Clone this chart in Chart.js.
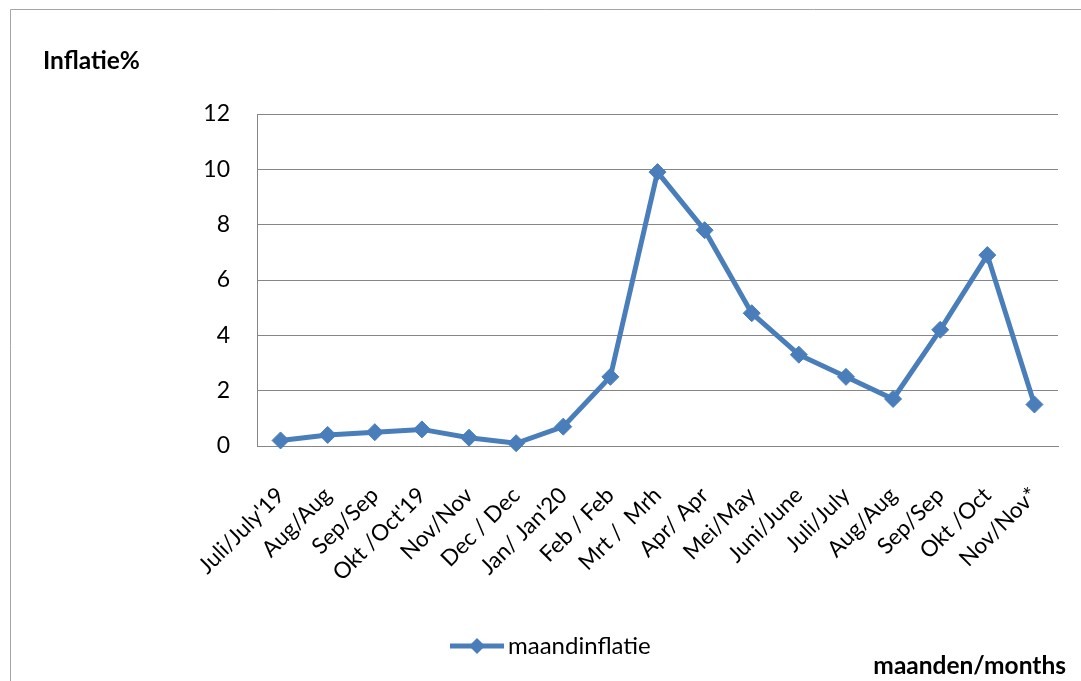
<!DOCTYPE html>
<html>
<head>
<meta charset="utf-8">
<script src="https://cdn.jsdelivr.net/npm/chart.js@4.4.0/dist/chart.umd.min.js"></script>
<style>
html,body{margin:0;padding:0;background:#fff;}
#wrap{width:1081px;height:681px;position:relative;}
</style>
</head>
<body>
<div id="wrap"><canvas id="c" width="1081" height="681"></canvas></div>
<script>
const categories = ["Juli/July'19","Aug/Aug","Sep/Sep","Okt /Oct'19","Nov/Nov","Dec / Dec","Jan/ Jan'20","Feb / Feb","Mrt /  Mrh","Apr/ Apr","Mei/May","Juni/June","Juli/July","Aug/Aug","Sep/Sep","Okt /Oct","Nov/Nov*"];
const maandinflatie = [0.2,0.4,0.5,0.6,0.3,0.1,0.7,2.5,9.9,7.8,4.8,3.3,2.5,1.7,4.2,6.9,1.5];
const yTicks = [0,2,4,6,8,10,12];
const seriesLabel = "maandinflatie";
const yTitle = "Inflatie%";
const xTitle = "maanden/months";

const FONT = "Lato, 'Open Sans', sans-serif";
const BLUE = "#4a7ebb";

const decor = {
  id: 'decor',
  beforeDraw(chart){
    const ctx = chart.ctx;
    ctx.save();
    ctx.fillStyle = '#fff';
    ctx.fillRect(0,0,chart.width,chart.height);
    ctx.strokeStyle = '#a6a6a6';
    ctx.lineWidth = 1;
    ctx.beginPath();
    ctx.moveTo(10.5, chart.height);
    ctx.lineTo(10.5, 9.5);
    ctx.lineTo(chart.width, 9.5);
    ctx.stroke();
    ctx.restore();
  },
  afterDraw(chart){
    const ctx = chart.ctx;
    ctx.save();
    ctx.fillStyle = '#000';
    ctx.font = "bold 24.5px " + FONT;
    ctx.textBaseline = 'middle';
    ctx.textAlign = 'left';
    ctx.fillText(yTitle, 43, 61);
    ctx.textAlign = 'right';
    ctx.fillText(xTitle, 1066, 666);
    // legend
    const ds = chart.data.datasets[0];
    const cy = 646;
    ctx.strokeStyle = ds.borderColor;
    ctx.lineWidth = 5;
    ctx.beginPath();
    ctx.moveTo(450, cy);
    ctx.lineTo(504, cy);
    ctx.stroke();
    ctx.fillStyle = ds.borderColor;
    ctx.beginPath();
    const mx = 477, r = 8;
    ctx.moveTo(mx, cy - r); ctx.lineTo(mx + r, cy); ctx.lineTo(mx, cy + r); ctx.lineTo(mx - r, cy);
    ctx.closePath(); ctx.fill();
    ctx.fillStyle = '#000';
    ctx.font = "24px " + FONT;
    ctx.textAlign = 'left';
    ctx.fillText(ds.label, 508, cy);
    ctx.restore();
  }
};

new Chart(document.getElementById('c'), {
  type: 'line',
  data: {
    labels: categories,
    datasets: [{
      label: seriesLabel,
      data: maandinflatie,
      borderColor: BLUE,
      backgroundColor: BLUE,
      borderWidth: 5,
      pointStyle: 'rectRot',
      pointRadius: 8.5,
      pointHoverRadius: 8.5,
      pointBackgroundColor: BLUE,
      pointBorderColor: BLUE,
      pointBorderWidth: 1,
      tension: 0,
      clip: false
    }]
  },
  options: {
    responsive: false,
    animation: false,
    devicePixelRatio: 1,
    layout: { padding: { left: 0, right: 23, top: 114, bottom: 0 } },
    plugins: { legend: { display: false }, tooltip: { enabled: false } },
    scales: {
      x: {
        offset: true,
        grid: { display: false, drawTicks: false },
        border: { display: true, color: '#868686', width: 1 },
        ticks: {
          autoSkip: false,
          maxRotation: 45, minRotation: 45,
          padding: 36,
          color: '#000',
          font: { family: FONT, size: 22.5 }
        },
        afterFit(scale){ scale.height = 235; scale.paddingLeft = 0; scale.paddingRight = 0; }
      },
      y: {
        min: 0, max: 12,
        afterBuildTicks(scale){ scale.ticks = yTicks.map(v => ({value: v})); },
        grid: { color: '#868686', lineWidth: 1, drawTicks: false },
        border: { display: true, color: '#868686', width: 1 },
        ticks: {
          padding: 27,
          color: '#000',
          font: { family: FONT, size: 23 }
        },
        afterFit(scale){ scale.width = 257; scale.paddingTop = 0; scale.paddingBottom = 0; }
      }
    }
  },
  plugins: [decor]
});
</script>
</body>
</html>
